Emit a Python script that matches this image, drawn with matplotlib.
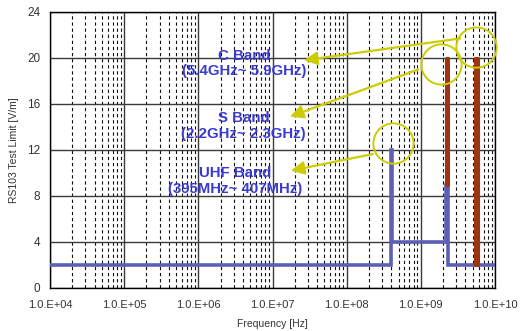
import numpy as np
import matplotlib.pyplot as plt
from matplotlib.ticker import FixedLocator, LogLocator, NullFormatter

plt.rcParams['font.family'] = ['Liberation Sans', 'DejaVu Sans']

# RS103 limit (blue step line)
freq = [1e4, 3.95e8, 3.95e8, 4.07e8, 4.07e8, 2.2e9, 2.2e9, 2.3e9, 2.3e9, 1e10]
limit = [2, 2, 12, 12, 4, 4, 9, 9, 2, 2]

# red bands: (low freq, high freq, bottom, top)
band_lo = [2.2e9, 5.4e9]
band_hi = [2.3e9, 5.9e9]
band_bottom = [9, 2]
band_top = [20, 20]

# callouts
labels = ['C Band\n(5.4GHz~ 5.9GHz)', 'S Band\n(2.2GHz~ 2.3GHz)', 'UHF Band\n(395MHz~ 407MHz)']
label_pos = [(4.1e6, 19.5), (4.1e6, 14.1), (3.1e6, 9.3)]
circle_pos = [(5.5e9, 21.0), (1.87e9, 19.5), (4.2e8, 12.6)]
arrow_from = [(3.4e9, 21.7), (9.2e8, 19.0), (2.26e8, 11.65)]
arrow_to = [(2.66e7, 19.8), (1.72e7, 14.9), (1.77e7, 10.2)]

xticks = [1e4, 1e5, 1e6, 1e7, 1e8, 1e9, 1e10]
xticklabels = ['1.0.E+04', '1.0.E+05', '1.0.E+06', '1.0.E+07', '1.0.E+08', '1.0.E+09', '1.0.E+10']
yticks = [0, 4, 8, 12, 16, 20, 24]

blue = '#5c5fb4'
red = '#9e3511'
yellow = '#cccc00'
txtblue = '#3a3ad0'

fig = plt.figure(figsize=(5.2, 3.31), dpi=100)
ax = fig.add_axes([50 / 520, 1 - 288 / 331, 445 / 520, 276 / 331])
ax.set_xscale('log')
ax.set_xlim(1e4, 1e10)
ax.set_ylim(0, 24)

ax.xaxis.set_major_locator(FixedLocator(xticks))
ax.xaxis.set_minor_locator(LogLocator(base=10, subs=np.arange(2, 10)))
ax.xaxis.set_minor_formatter(NullFormatter())
ax.set_xticks(xticks)
ax.set_xticklabels(xticklabels)
ax.set_yticks(yticks)

ax.grid(True, which='major', color='#3a3a3a', lw=1.0)
ax.grid(True, which='minor', axis='x', color='#111111', lw=0.8, ls=(0, (3.0, 2.5)))
ax.set_axisbelow(True)

ax.tick_params(which='both', length=0)
ax.tick_params(axis='x', pad=9, labelsize=8, colors='#333333')
ax.tick_params(axis='y', pad=7, labelsize=8.5, colors='#333333')
for s in ax.spines.values():
    s.set_color('black')
    s.set_linewidth(1.0)

ax.plot(freq, limit, color=blue, lw=2.6, zorder=3, solid_joinstyle='miter')

for lo, hi, b, t in zip(band_lo, band_hi, band_bottom, band_top):
    ax.fill_between([lo, hi], b, t, color=red, lw=2.2, edgecolor=red, zorder=4)

for (cx, cy) in circle_pos:
    ax.plot(cx, cy, 'o', ms=29, mfc='none', mec=yellow, mew=1.4, zorder=5, clip_on=False)

for (fx, fy), (tx, ty) in zip(arrow_from, arrow_to):
    ax.annotate('', xy=(tx, ty), xytext=(fx, fy),
                arrowprops=dict(arrowstyle='-|>,head_length=0.8,head_width=0.4',
                                color=yellow, lw=1.6, shrinkA=0, shrinkB=0), zorder=5)

for txt, (lx, ly) in zip(labels, label_pos):
    ax.text(lx, ly, txt, ha='center', va='center', color=txtblue, fontsize=10.8,
            fontweight='bold', linespacing=1.12, zorder=6)

ax.set_xlabel('Frequency [Hz]', fontsize=7.5, color='#333333', labelpad=6)
ax.set_ylabel('RS103 Test Limit [V/m]', fontsize=7.5, color='#333333', labelpad=6)

fig.savefig('out.png', dpi=100)
